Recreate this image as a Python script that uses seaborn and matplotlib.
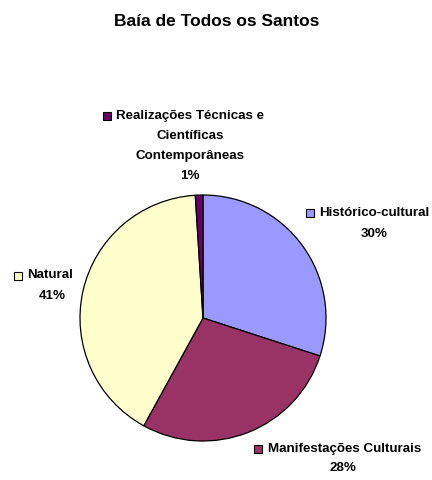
import matplotlib
matplotlib.use("Agg")
import matplotlib.pyplot as plt
import seaborn as sns

sns.set_theme(style="white")
plt.rcParams['font.family'] = ['Liberation Sans', 'DejaVu Sans']

title = "Baía de Todos os Santos"
categories = ["Histórico-cultural", "Manifestações Culturais", "Natural",
              "Realizações Técnicas e\nCientíficas\nContemporâneas"]
values = [30, 28, 41, 1]
colors = ["#9999FF", "#993366", "#FFFFCC", "#660066"]

W, H = 432, 480
fig = plt.figure(figsize=(W / 100, H / 100), dpi=100)
fig.patch.set_facecolor("white")
ax = fig.add_axes([0, 0, 1, 1])

cx, cy, r = 203, H - 318, 123
ax.pie(values, colors=colors, startangle=90, counterclock=False,
       center=(cx, cy), radius=r, frame=True,
       wedgeprops=dict(edgecolor="black", linewidth=0.9))
ax.set_xlim(0, W)
ax.set_ylim(0, H)
ax.set_aspect("equal")
ax.axis("off")

fs = 9.6
# label layouts: (square x, square y, text center x, line ys..., pct x, pct y)
layout = [
    (310, 213, 374, [213], 374, 234),
    (257.5, 448.5, 345, [449], 343, 468),
    (17.5, 275.5, 50, [275], 52, 296),
    (107, 116, 190, [116, 136, 156], 190, 176),
]
for (sx, sy, tx, lys, px, py), cat, v, col in zip(layout, categories, values, colors):
    for line, ly in zip(cat.split("\n"), lys):
        ax.text(tx, H - ly, line, ha="center", va="center",
                fontsize=fs, fontweight="bold", color="black")
    ax.text(px, H - py, f"{v}%", ha="center", va="center",
            fontsize=fs, fontweight="bold", color="black")
    ax.plot([sx], [H - sy], marker="s", markersize=6.3, markerfacecolor=col,
            markeredgecolor="black", markeredgewidth=0.8, linestyle="none")

fig.text(217 / W, 1 - 22 / H, title, ha="center", va="center",
         fontsize=12.5, fontweight="bold", color="black")

fig.savefig("out.png", dpi=100, facecolor="white")
